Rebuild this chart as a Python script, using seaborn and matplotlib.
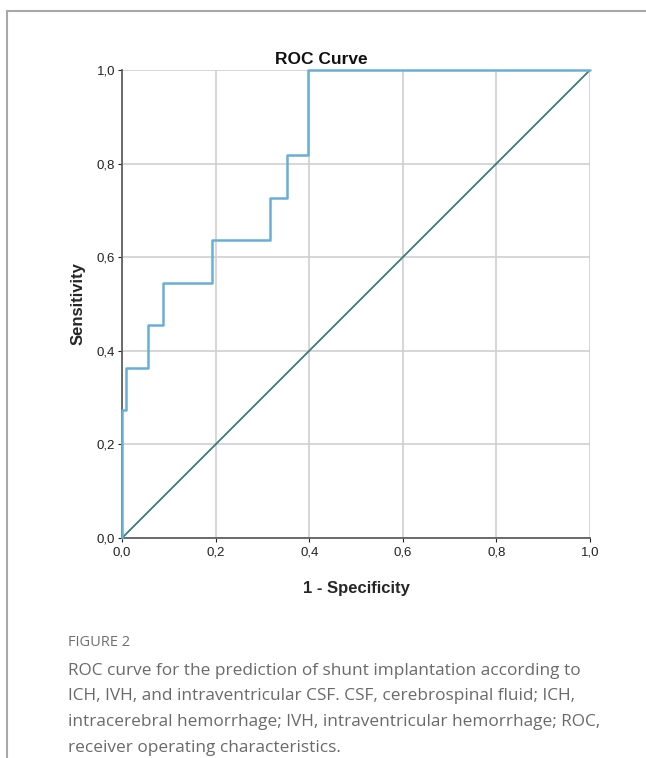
import matplotlib
matplotlib.use("Agg")
import matplotlib.pyplot as plt
import seaborn as sns
import pandas as pd

# --- datos ---
fpr = [0.0, 0.0, 0.009, 0.055, 0.088, 0.193, 0.316, 0.353, 0.398, 1.0]
tpr = [0.0, 0.273, 0.364, 0.455, 0.545, 0.636, 0.727, 0.818, 1.0, 1.0]
ref_x = [0.0, 1.0]
ref_y = [0.0, 1.0]
ticks = [0.0, 0.2, 0.4, 0.6, 0.8, 1.0]
tick_labels = ["0,0", "0,2", "0,4", "0,6", "0,8", "1,0"]

caption_title = "FIGURE 2"
caption_lines = [
    "ROC curve for the prediction of shunt implantation according to",
    "ICH, IVH, and intraventricular CSF. CSF, cerebrospinal fluid; ICH,",
    "intracerebral hemorrhage; IVH, intraventricular hemorrhage; ROC,",
    "receiver operating characteristics.",
]

sns.set_theme(style="white")
plt.rcParams['font.family'] = ['Liberation Sans', 'DejaVu Sans']

W, H = 646, 758
fig = plt.figure(figsize=(W / 100, H / 100), dpi=100)

# marco gris del panel
fig.add_artist(plt.Line2D([7 / W, 1.0], [1 - 11 / H, 1 - 11 / H], color="#a8a8a8", lw=1.5))
fig.add_artist(plt.Line2D([7 / W, 7 / W], [1 - 11 / H, 0.0], color="#a8a8a8", lw=1.5))

ax = fig.add_axes([122 / W, 1 - 538 / H, 468 / W, 468 / H])

df_roc = pd.DataFrame({"fpr": fpr, "tpr": tpr})
df_ref = pd.DataFrame({"x": ref_x, "y": ref_y})

sns.lineplot(data=df_ref, x="x", y="y", ax=ax, color="#3d7d77", lw=1.3,
             estimator=None, sort=False, zorder=3)
sns.lineplot(data=df_roc, x="fpr", y="tpr", ax=ax, color="#6aaed6", lw=1.8,
             estimator=None, sort=False, drawstyle="steps-post", zorder=4, clip_on=False)

ax.set_xlim(0, 1)
ax.set_ylim(0, 1)
ax.set_xticks(ticks)
ax.set_yticks(ticks)
ax.set_xticklabels(tick_labels)
ax.set_yticklabels(tick_labels)
ax.grid(True, color="#cfcfcf", lw=1.2)
ax.set_axisbelow(True)
for s in ["top", "right"]:
    ax.spines[s].set_visible(False)
for s in ["left", "bottom"]:
    ax.spines[s].set_color("#606060")
    ax.spines[s].set_linewidth(1.3)
    ax.spines[s].set_zorder(2)
ax.tick_params(axis="both", labelsize=9.5, colors="#222222", length=3, width=0.8,
               direction="out", left=True, bottom=True, pad=3)
ax.tick_params(axis="y", pad=2)

ax.set_xlabel("1 - Specificity", fontsize=12, fontweight="bold", labelpad=16)
ax.set_ylabel("Sensitivity", fontsize=12, fontweight="bold", labelpad=8)
fig.text(321 / W, 1 - 59 / H, "ROC Curve", ha="center", va="center",
         fontsize=12.5, fontweight="bold", color="#111111")

# pie de figura
fig.text(68 / W, 1 - 643 / H, caption_title, ha="left", va="center",
         fontsize=10.5, color="#707070", family=["Open Sans", "DejaVu Sans"])
for i, line in enumerate(caption_lines):
    fig.text(68 / W, 1 - (671 + i * 25.5) / H, line, ha="left", va="center",
             fontsize=12.4, color="#6a6a6a", family=["Open Sans", "DejaVu Sans"])

fig.savefig("out.png", dpi=100)
